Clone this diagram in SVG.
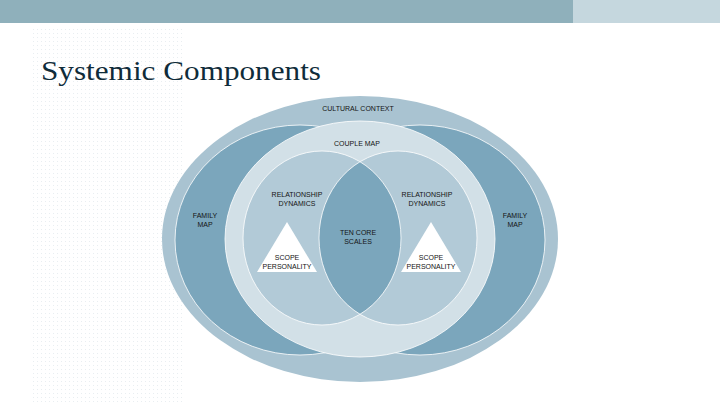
<svg xmlns="http://www.w3.org/2000/svg" width="720" height="405" viewBox="0 0 720 405">
  <defs>
    <pattern id="dots" x="0" y="0" width="4" height="4" patternUnits="userSpaceOnUse">
      <rect x="1" y="1" width="1" height="1" fill="#e9eef1"/>
    </pattern>
    <clipPath id="clipLeftRel">
      <ellipse cx="322" cy="238" rx="79" ry="87"/>
    </clipPath>
    <style>
      .lbl { font-family: "Liberation Sans", Arial, sans-serif; font-size: 7px; fill: #141414; text-anchor: middle; }
      .edge { stroke: #ffffff; stroke-width: 1; stroke-opacity: 0.8; }
      .dark { fill: #7ba6bc; }
      .mid { fill: #a9c3d1; }
      .rel { fill: #b2cad7; }
      .ring { fill: #d2e0e7; }
      .tri { fill: #ffffff; }
    </style>
  </defs>

  <rect x="0" y="0" width="720" height="405" fill="#ffffff"/>
  <rect x="33" y="26" width="152" height="379" fill="url(#dots)"/>

  <g id="header">
    <rect x="0" y="0" width="573" height="23" fill="#8fb0bb"/>
    <rect x="573" y="0" width="147" height="23" fill="#c5d7de"/>
  </g>

  <g id="title">
    <text x="41" y="80" font-family="'Liberation Serif', 'DejaVu Serif', serif" font-size="28" fill="#0f2c3a" textLength="280" lengthAdjust="spacingAndGlyphs">Systemic Components</text>
  </g>

  <g id="cultural-context">
    <ellipse cx="360" cy="239" rx="198" ry="143" class="mid"/>
    <text class="lbl" x="358" y="111">CULTURAL CONTEXT</text>
  </g>

  <g id="family-map-left">
    <ellipse cx="300" cy="240" rx="125" ry="115" class="dark edge"/>
    <text class="lbl" x="205" y="217.5">FAMILY</text>
    <text class="lbl" x="205" y="226.5">MAP</text>
  </g>

  <g id="family-map-right">
    <ellipse cx="420" cy="240" rx="125" ry="115" class="dark edge"/>
    <text class="lbl" x="515" y="217.5">FAMILY</text>
    <text class="lbl" x="515" y="226.5">MAP</text>
  </g>

  <g id="couple-map">
    <ellipse cx="360" cy="239" rx="135" ry="118" class="ring edge"/>
    <text class="lbl" x="357" y="145.5">COUPLE MAP</text>
  </g>

  <g id="relationship-dynamics-left">
    <ellipse cx="322" cy="238" rx="79" ry="87" class="rel"/>
  </g>

  <g id="relationship-dynamics-right">
    <ellipse cx="398" cy="238" rx="79" ry="87" class="rel"/>
  </g>

  <g id="ten-core-scales">
    <ellipse cx="398" cy="238" rx="79" ry="87" class="dark" clip-path="url(#clipLeftRel)"/>
    <ellipse cx="322" cy="238" rx="79" ry="87" fill="none" class="edge"/>
    <ellipse cx="398" cy="238" rx="79" ry="87" fill="none" class="edge"/>
    <text class="lbl" x="358" y="234.5">TEN CORE</text>
    <text class="lbl" x="358" y="243.5">SCALES</text>
  </g>

  <g id="relationship-labels">
    <text class="lbl" x="297" y="196.5">RELATIONSHIP</text>
    <text class="lbl" x="297" y="205.5">DYNAMICS</text>
    <text class="lbl" x="427" y="196.5">RELATIONSHIP</text>
    <text class="lbl" x="427" y="205.5">DYNAMICS</text>
  </g>

  <g id="scope-personality-left">
    <polygon points="287,222 317,272 257,272" class="tri"/>
    <text class="lbl" x="287" y="259.5">SCOPE</text>
    <text class="lbl" x="287" y="268.5">PERSONALITY</text>
  </g>

  <g id="scope-personality-right">
    <polygon points="431,222 461,272 401,272" class="tri"/>
    <text class="lbl" x="431" y="259.5">SCOPE</text>
    <text class="lbl" x="431" y="268.5">PERSONALITY</text>
  </g>

  <g id="connectors"></g>
</svg>
